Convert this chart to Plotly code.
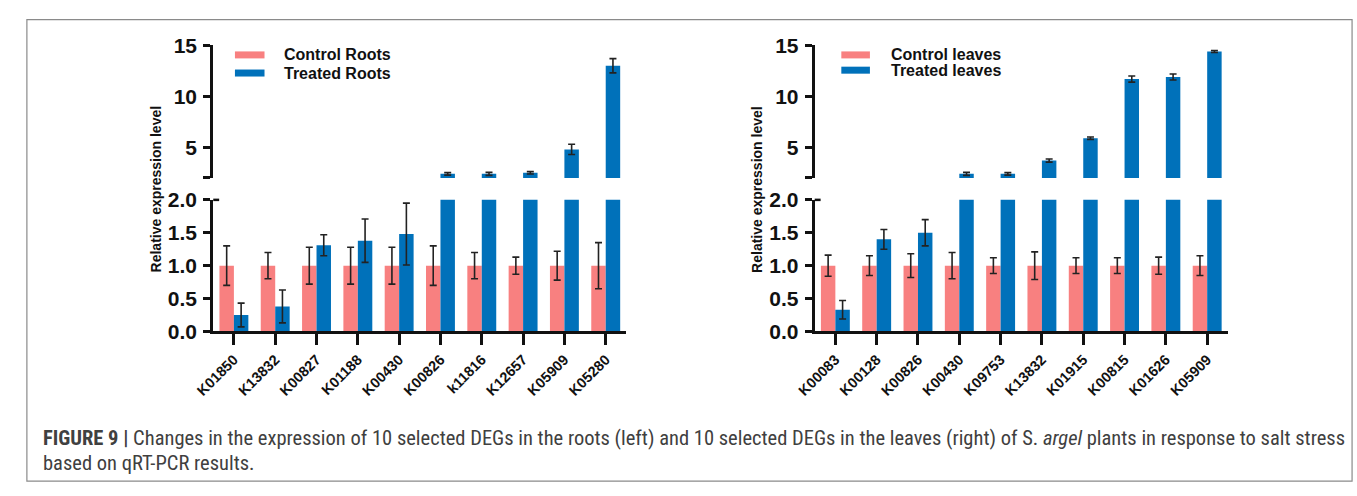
import plotly.graph_objects as go

W, H = 1357, 496

roots_genes = ["K01850", "K13832", "K00827", "K01188", "K00430", "K00826", "k11816", "K12657", "K05909", "K05280"]
roots_ctrl = [1.0, 1.0, 1.0, 1.0, 1.0, 1.0, 1.0, 1.0, 1.0, 1.0]
roots_ctrl_err = [0.30, 0.20, 0.28, 0.28, 0.28, 0.30, 0.20, 0.13, 0.22, 0.35]
roots_trt = [0.25, 0.38, 1.31, 1.38, 1.48, 2.4, 2.4, 2.5, 4.8, 13.0]
roots_trt_err = [0.18, 0.25, 0.16, 0.33, 0.47, 0.12, 0.15, 0.12, 0.5, 0.7]

leaves_genes = ["K00083", "K00128", "K00826", "K00430", "K09753", "K13832", "K01915", "K00815", "K01626", "K05909"]
leaves_ctrl = [1.0, 1.0, 1.0, 1.0, 1.0, 1.0, 1.0, 1.0, 1.0, 1.0]
leaves_ctrl_err = [0.16, 0.15, 0.18, 0.20, 0.12, 0.21, 0.12, 0.12, 0.13, 0.15]
leaves_trt = [0.33, 1.40, 1.50, 2.4, 2.4, 3.7, 5.9, 11.7, 11.9, 14.4]
leaves_trt_err = [0.14, 0.15, 0.20, 0.15, 0.12, 0.15, 0.12, 0.3, 0.3, 0.1]

legend_roots = ["Control Roots", "Treated Roots"]
legend_leaves = ["Control leaves", "Treated leaves"]
y_title = "Relative expression level"
low_ticks = [0, 0.5, 1.0, 1.5, 2.0]
low_labels = ["0.0", "0.5", "1.0", "1.5", "2.0"]
high_ticks = [2, 5, 10, 15]
high_labels = ["", "5", "10", "15"]
BREAK = 2.0

PINK = "#F88080"
BLUE = "#0071BA"
FONT = "Liberation Sans, Arial, sans-serif"


def px(x):
    return x / W


def py(y):
    return 1 - y / H


fig = go.Figure()

panels = [
    (roots_genes, roots_ctrl, roots_ctrl_err, roots_trt, roots_trt_err, ("x", "y"), ("x2", "y2")),
    (leaves_genes, leaves_ctrl, leaves_ctrl_err, leaves_trt, leaves_trt_err, ("x3", "y3"), ("x4", "y4")),
]

for genes, c, ce, t, te, low, high in panels:
    idx = list(range(len(genes)))
    # lower segment (0 - 2)
    fig.add_trace(go.Bar(x=idx, y=c, xaxis=low[0], yaxis=low[1], marker_color=PINK, marker_line_width=0,
                         showlegend=False,
                         error_y=dict(type="data", array=ce, color="#222", thickness=1.6, width=3.5)))
    fig.add_trace(go.Bar(x=idx, y=t, xaxis=low[0], yaxis=low[1], marker_color=BLUE, marker_line_width=0,
                         showlegend=False,
                         error_y=dict(type="data", array=[e if v < BREAK else None for v, e in zip(t, te)],
                                      color="#222", thickness=1.6, width=3.5)))
    # upper segment (2 - 15)
    fig.add_trace(go.Bar(x=idx, y=c, xaxis=high[0], yaxis=high[1], marker_color=PINK, marker_line_width=0,
                         showlegend=False))
    fig.add_trace(go.Bar(x=idx, y=t, xaxis=high[0], yaxis=high[1], marker_color=BLUE, marker_line_width=0,
                         showlegend=False,
                         error_y=dict(type="data", array=[e if v > BREAK else None for v, e in zip(t, te)],
                                      color="#222", thickness=1.6, width=3.5)))

xL = [px(197), px(616)]
xR = [px(807), px(1226)]
yLow = [py(335), py(197)]
yHigh = [py(174), py(35)]

tickfont = dict(family=FONT, size=21, color="#111", weight="bold")
xtickfont = dict(family=FONT, size=14.5, color="#111", weight="bold")


def y_axis(domain, anchor, rng, tv, tt):
    return dict(domain=domain, anchor=anchor, range=rng, tickvals=tv, ticktext=tt,
                showline=True, linecolor="#111", linewidth=3, ticks="outside", ticklen=7,
                tickwidth=2.5, tickcolor="#111", showgrid=False, zeroline=False,
                tickfont=tickfont, ticklabelstandoff=2)


def low_x(domain, anchor, genes):
    return dict(domain=domain, anchor=anchor, range=[-0.5, 9.5], tickvals=list(range(len(genes))),
                ticktext=genes, tickangle=-45, showline=True, linecolor="#111", linewidth=3,
                ticks="outside", ticklen=11, tickwidth=2.5, tickcolor="#111", showgrid=False,
                zeroline=False, tickfont=xtickfont)


def high_x(domain, anchor, match):
    return dict(domain=domain, anchor=anchor, range=[-0.5, 9.5], matches=match, visible=False,
                showgrid=False, zeroline=False)


fig.update_layout(
    width=W, height=H,
    margin=dict(l=0, r=0, t=0, b=0),
    paper_bgcolor="white", plot_bgcolor="white",
    barmode="group", bargap=0.3, bargroupgap=0.0,
    showlegend=False,
    xaxis=low_x(xL, "y", roots_genes),
    yaxis=y_axis(yLow, "x", [0, 2], low_ticks, low_labels),
    xaxis2=high_x(xL, "y2", "x"),
    yaxis2=y_axis(yHigh, "x2", [2, 15], high_ticks, high_labels),
    xaxis3=low_x(xR, "y3", leaves_genes),
    yaxis3=y_axis(yLow, "x3", [0, 2], low_ticks, low_labels),
    xaxis4=high_x(xR, "y4", "x3"),
    yaxis4=y_axis(yHigh, "x4", [2, 15], high_ticks, high_labels),
)

shapes = []
annotations = []

# figure frame
shapes.append(dict(type="rect", xref="paper", yref="paper", x0=px(8), x1=px(1352), y0=py(492), y1=py(8),
                   line=dict(color="#8a8a8a", width=1.2), fillcolor="rgba(0,0,0,0)"))

# small caps at the axis break (top of lower segment)
for xa in (197, 807):
    shapes.append(dict(type="line", xref="paper", yref="paper", x0=px(xa), x1=px(xa + 6),
                       y0=py(197), y1=py(197), line=dict(color="#111", width=2.5)))

# manual legends
for (x0, x1, tx, ys, names) in [(219, 249, 267, (45, 64), legend_roots),
                                (834, 863, 882, (45, 61), legend_leaves)]:
    for col, yy, name in zip([PINK, BLUE], ys, names):
        shapes.append(dict(type="line", xref="paper", yref="paper", x0=px(x0), x1=px(x1),
                           y0=py(yy), y1=py(yy), line=dict(color=col, width=7)))
        annotations.append(dict(xref="paper", yref="paper", x=px(tx), y=py(yy), xanchor="left",
                                yanchor="middle", showarrow=False, text="<b>%s</b>" % name,
                                font=dict(family=FONT, size=16, color="#111")))

# y-axis titles
for xx in (139, 749):
    annotations.append(dict(xref="paper", yref="paper", x=px(xx), y=py(186), xanchor="center",
                            yanchor="middle", showarrow=False, textangle=-90,
                            text="<b>%s</b>" % y_title,
                            font=dict(family=FONT, size=14, color="#111")))

# caption
cap_font = dict(family="Liberation Sans Narrow, Arial Narrow, Roboto Condensed, DejaVu Sans Condensed, sans-serif",
                size=20.5, color="#404040")
annotations.append(dict(xref="paper", yref="paper", x=px(22), y=py(447), xanchor="left", yanchor="middle",
                        showarrow=False, font=cap_font, align="left",
                        text="<b>FIGURE 9 |</b> Changes in the expression of 10 selected DEGs in the roots (left) and 10 selected DEGs in the leaves (right) of S. <i>argel</i> plants in response to salt stress"))
annotations.append(dict(xref="paper", yref="paper", x=px(22), y=py(473), xanchor="left", yanchor="middle",
                        showarrow=False, font=cap_font, align="left",
                        text="based on qRT-PCR results."))

fig.update_layout(shapes=shapes, annotations=annotations)

fig.write_html("out.html", config={"displayModeBar": False},
               post_script="document.body.style.margin='0';document.body.style.overflow='hidden';")
